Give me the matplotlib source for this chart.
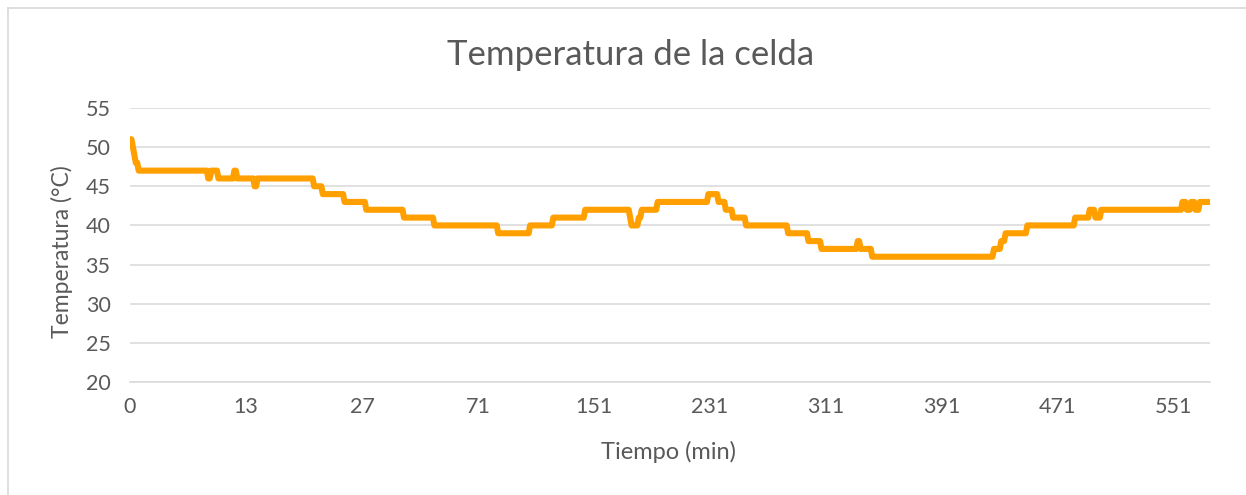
import numpy as np
import matplotlib
matplotlib.use("Agg")
import matplotlib.pyplot as plt
from matplotlib.lines import Line2D

# Cell temperature log (°C), stored as run-length encoded readings
temp_levels = [51, 50, 49, 48, 47, 46, 47, 46, 47, 46, 45, 46, 45, 44, 43, 42,
               41, 40, 39, 40, 41, 42, 41, 40, 41, 42, 43, 44, 43, 42, 41, 40,
               39, 38, 37, 38, 37, 36, 37, 38, 39, 40, 41, 42, 41, 42, 43, 42,
               43, 42, 43]
run_lengths = [2, 1, 1, 2, 48, 2, 5, 11, 2, 12, 2, 39, 6, 15, 15, 26,
               21, 44, 22, 16, 22, 31, 1, 5, 2, 11, 35, 7, 5, 5, 9, 29,
               14, 9, 25, 2, 8, 84, 5, 3, 15, 33, 10, 4, 4, 56, 3, 3,
               3, 3, 8]

# Category axis labels (time in minutes), one label every 80 samples
tick_labels = ["0", "13", "27", "71", "151", "231", "311", "391", "471", "551"]
label_step = 80

temps = np.repeat(temp_levels, run_lengths)
idx = np.arange(len(temps))

plt.rcParams["font.family"] = ["Lato", "DejaVu Sans"]
text_color = "#595959"
W, H = 1246, 495
fig = plt.figure(figsize=(W / 100, H / 100), dpi=100)

x0, x1, y_top, y_bot = 130, 1210, 108, 382
ax = fig.add_axes([x0 / W, 1 - y_bot / H, (x1 - x0) / W, (y_bot - y_top) / H])

ax.plot(idx, temps, color="#FF9F00", lw=4.4, solid_joinstyle="round",
        solid_capstyle="round", zorder=3)

ax.set_xlim(0, len(temps) - 1)
ax.set_ylim(20, 55)
ax.set_yticks(np.arange(20, 56, 5))
ax.set_xticks(np.arange(len(tick_labels)) * label_step)
ax.set_xticklabels(tick_labels)
ax.grid(axis="y", color="#D9D9D9", lw=1.1)
ax.set_axisbelow(True)
for s in ["top", "right", "left"]:
    ax.spines[s].set_visible(False)
ax.spines["bottom"].set_color("#D9D9D9")
ax.spines["bottom"].set_linewidth(1.1)
ax.tick_params(length=0, labelsize=15.5, colors=text_color, pad=11)
ax.tick_params(axis="y", pad=14)

fig.text(631 / W, 1 - 55 / H, "Temperatura de la celda", ha="center",
         va="center", fontsize=25, color=text_color)
fig.text(669 / W, 1 - 452 / H, "Tiempo (min)", ha="center", va="center",
         fontsize=17, color=text_color)
fig.text(62 / W, 1 - 252 / H, "Temperatura (°C)", ha="center", va="center",
         rotation=90, fontsize=16.5, color=text_color)

# Chart-area border (left and top edges)
fig.add_artist(Line2D([8 / W, 8 / W], [0, 1 - 8 / H], transform=fig.transFigure,
                      color="#D9D9D9", lw=1.2))
fig.add_artist(Line2D([8 / W, 1], [1 - 8 / H, 1 - 8 / H], transform=fig.transFigure,
                      color="#D9D9D9", lw=1.2))

fig.savefig("out.png", dpi=100, facecolor="white")
